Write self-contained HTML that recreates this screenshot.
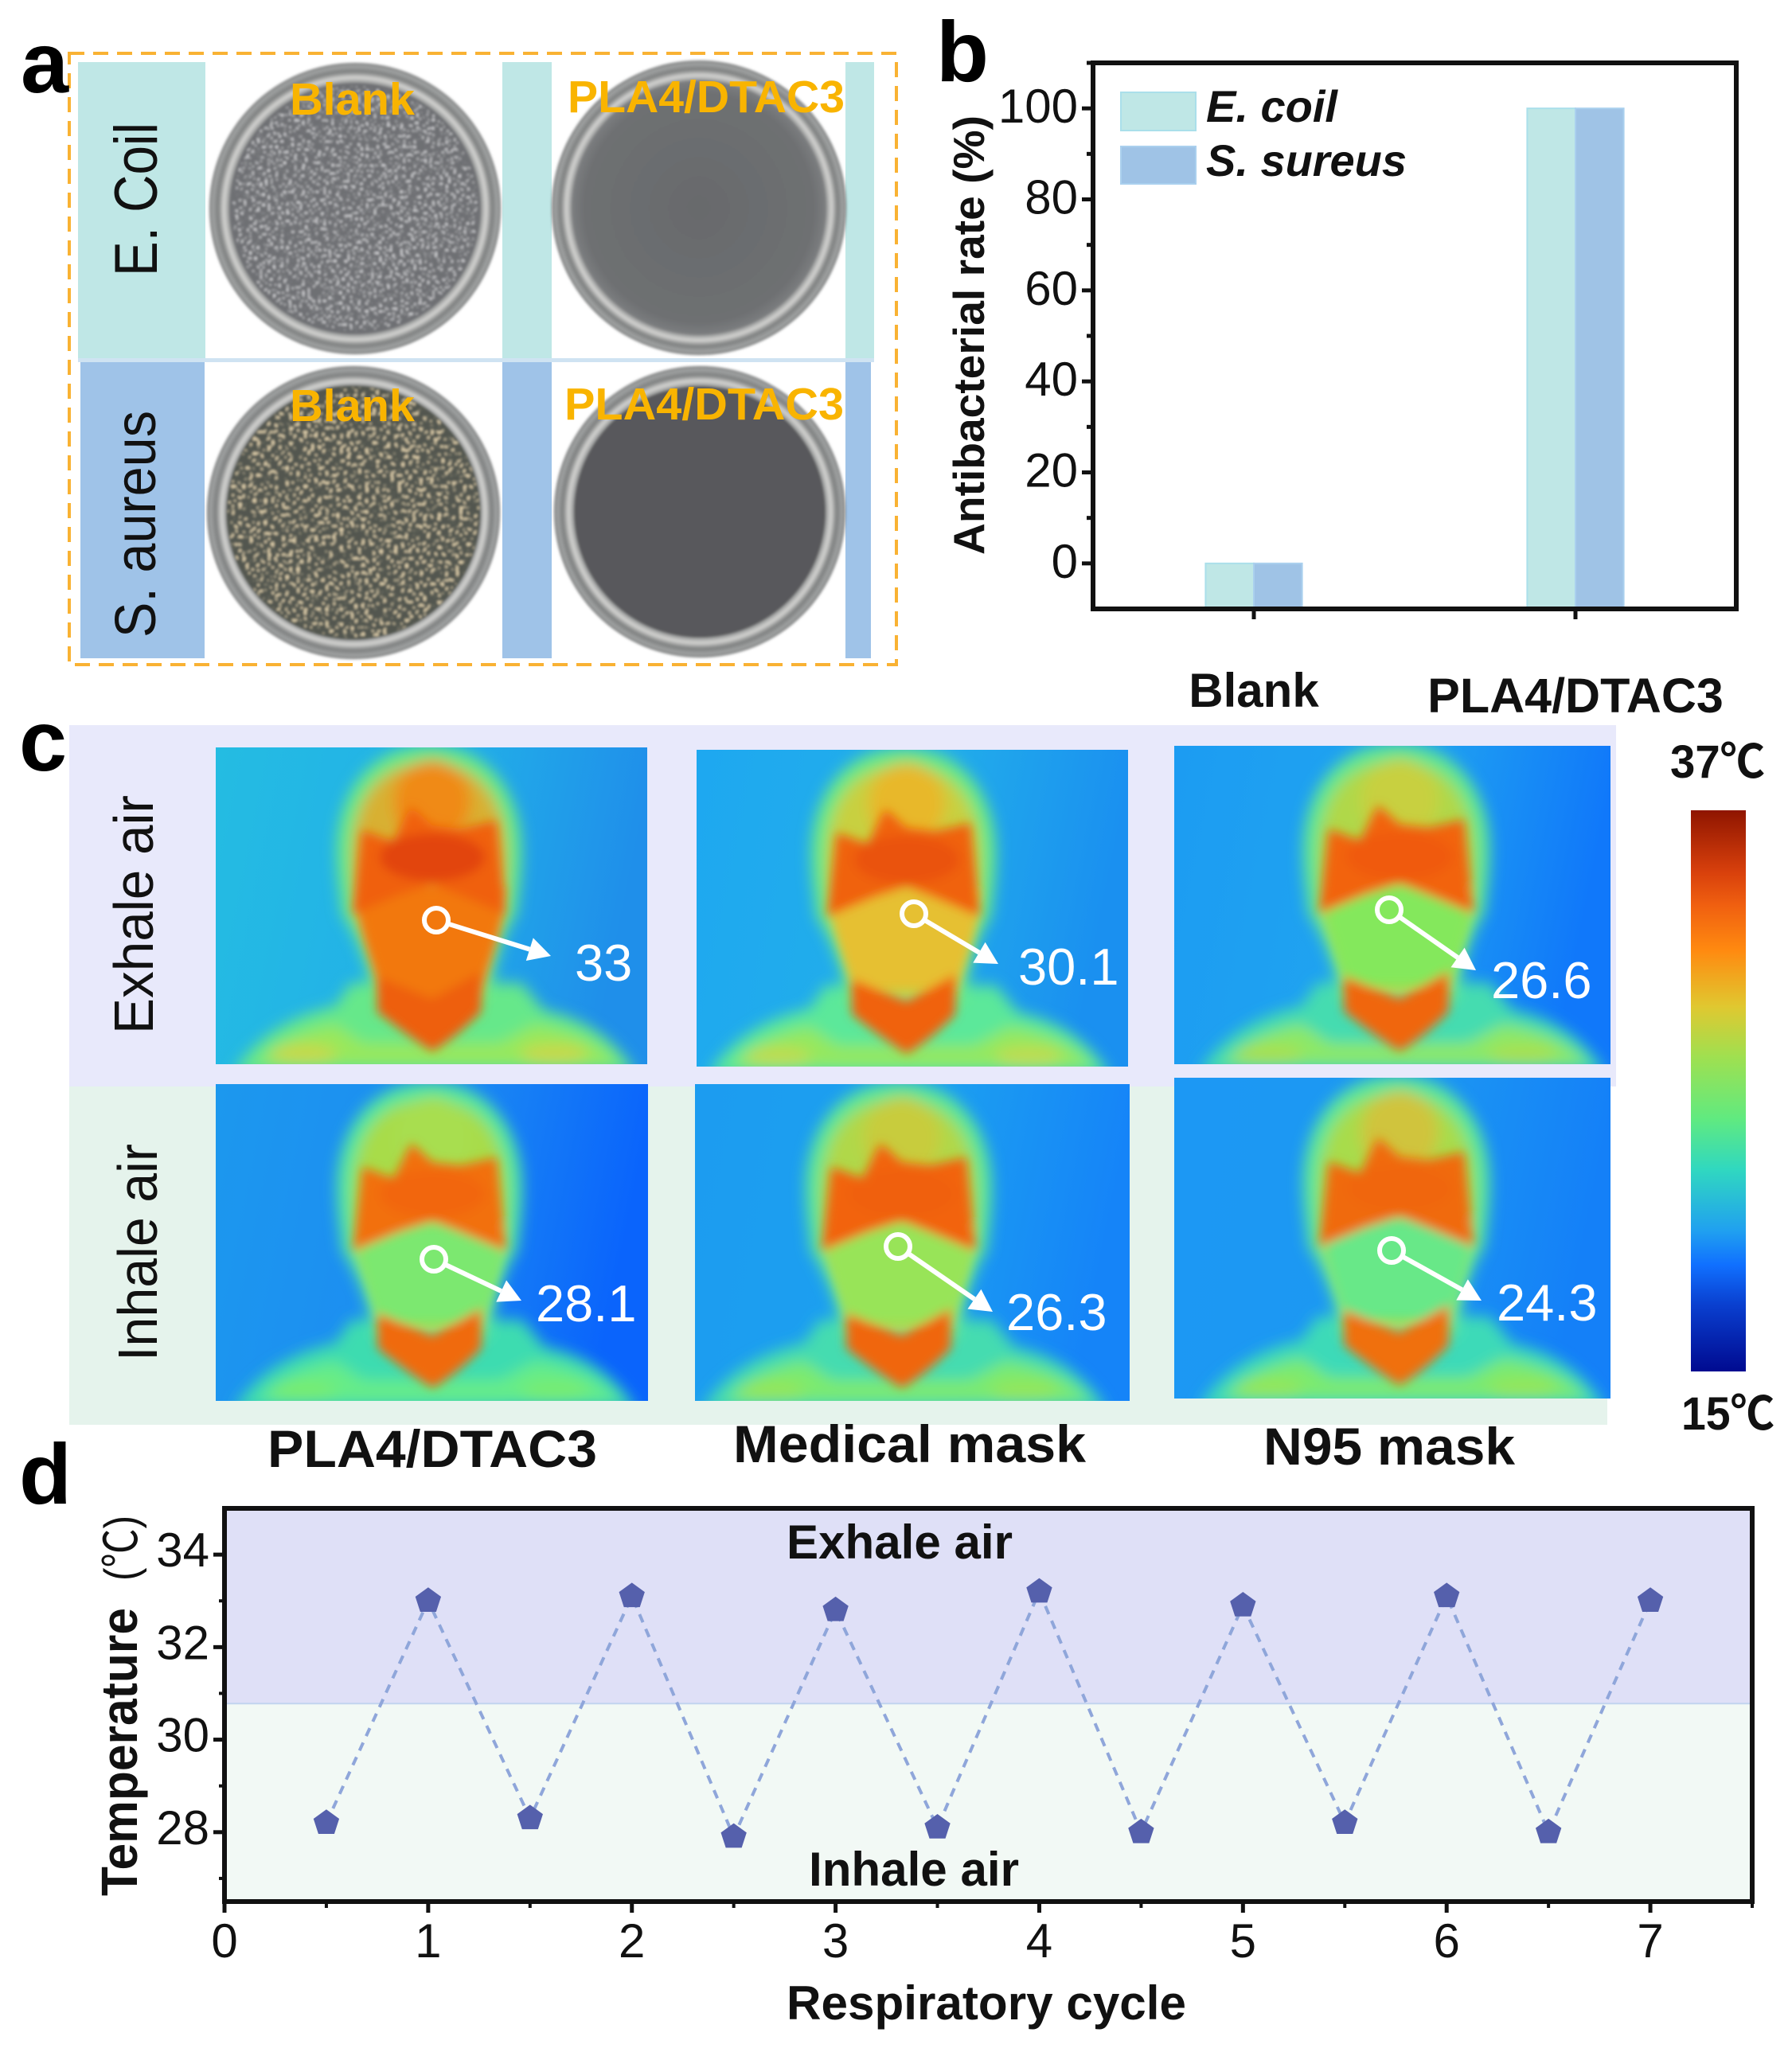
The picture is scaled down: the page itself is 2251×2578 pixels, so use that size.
<!DOCTYPE html>
<html lang="en">
<head>
<meta charset="utf-8">
<title>Antibacterial and thermal mask figure</title>
<style>
html,body{margin:0;padding:0;background:#fff}
svg{display:block}
text{font-family:"Liberation Sans","Noto Sans CJK SC",sans-serif;fill:#111}
.b{font-weight:bold}
.bi{font-weight:bold;font-style:italic}
.or{font-weight:bold;fill:#f9b400}
.w{fill:#fff;font-size:65px}
.pl{font-weight:bold;font-size:108px;fill:#000}
</style>
</head>
<body>
<svg id="fig" xmlns="http://www.w3.org/2000/svg" width="2251" height="2578" viewBox="0 0 2251 2578">
<defs>
<filter id="speck-gray" x="0" y="0" width="100%" height="100%"><feTurbulence type="fractalNoise" baseFrequency="0.3" numOctaves="1" seed="4"/><feColorMatrix values="0 0 0 0 .74  0 0 0 0 .74  0 0 0 0 .76  8 0 0 0 -4.5"/><feComposite in2="SourceGraphic" operator="in"/></filter>
<filter id="speck-tan" x="0" y="0" width="100%" height="100%"><feTurbulence type="fractalNoise" baseFrequency="0.22" numOctaves="1" seed="9"/><feColorMatrix values="0 0 0 0 .76  0 0 0 0 .64  0 0 0 0 .42  9 0 0 0 -5"/><feComposite in2="SourceGraphic" operator="in"/></filter>
<filter id="soft" x="-20%" y="-20%" width="140%" height="140%"><feGaussianBlur stdDeviation="9"/></filter>
<filter id="soft2" x="-20%" y="-20%" width="140%" height="140%"><feGaussianBlur stdDeviation="6.5"/></filter>
<filter id="soft1" x="-5%" y="-5%" width="110%" height="110%"><feGaussianBlur stdDeviation="1.5"/></filter>
<linearGradient id="cbar" x1="0" y1="0" x2="0" y2="1">
<stop offset="0" stop-color="#8f1500"/><stop offset=".11" stop-color="#d8400c"/><stop offset=".17" stop-color="#f06010"/><stop offset=".25" stop-color="#ff8a10"/><stop offset=".35" stop-color="#e0c830"/><stop offset=".44" stop-color="#9fe050"/><stop offset=".55" stop-color="#60ea80"/><stop offset=".64" stop-color="#30d8c0"/><stop offset=".75" stop-color="#20a0f0"/><stop offset=".81" stop-color="#1070ff"/><stop offset=".88" stop-color="#0a40d0"/><stop offset="1" stop-color="#000a90"/>
</linearGradient>
<radialGradient id="rim" cx="50%" cy="50%" r="50%"><stop offset=".86" stop-color="#8e9090"/><stop offset=".9" stop-color="#d4d4d2"/><stop offset=".94" stop-color="#7e8080"/><stop offset=".98" stop-color="#a2a4a4"/><stop offset="1" stop-color="#6c6e6e"/></radialGradient>
<radialGradient id="plate-light" cx="50%" cy="50%" r="50%"><stop offset="0" stop-color="#686a6c"/><stop offset=".9" stop-color="#6e7072"/><stop offset="1" stop-color="#7c7e80"/></radialGradient>
</defs>

<g>
<rect x="98" y="78" width="1000" height="372" fill="#bfe7e6"/>
<rect x="98" y="450" width="1000" height="5" fill="#cfe3f2"/>
<rect x="101" y="455" width="993" height="372" fill="#9fc3e8"/>
<rect x="258" y="78" width="373" height="372" fill="#fff"/>
<rect x="693" y="78" width="369" height="372" fill="#fff"/>
<rect x="257" y="455" width="374" height="372" fill="#fff"/>
<rect x="693" y="455" width="369" height="372" fill="#fff"/>
<rect x="87" y="67" width="1039" height="768" fill="none" stroke="#f9b233" stroke-width="4" stroke-dasharray="19 11"/>

<g filter="url(#soft1)">
<circle cx="446" cy="262" r="183" fill="url(#rim)"/>
<circle cx="446" cy="262" r="158" fill="#6e7073"/>
<circle cx="446" cy="262" r="154" filter="url(#speck-gray)"/>
</g>
<g filter="url(#soft1)">
<circle cx="878" cy="261" r="185" fill="url(#rim)"/>
<circle cx="878" cy="261" r="160" fill="url(#plate-light)"/>
</g>
<g filter="url(#soft1)">
<circle cx="444" cy="644" r="184" fill="url(#rim)"/>
<circle cx="444" cy="644" r="160" fill="#52564f"/>
<circle cx="444" cy="644" r="158" filter="url(#speck-tan)"/>
</g>
<g filter="url(#soft1)">
<circle cx="879" cy="643" r="183" fill="url(#rim)"/>
<circle cx="879" cy="643" r="158" fill="#58595b"/>
</g>

<text class="or" x="364" y="144" font-size="57" textLength="157" lengthAdjust="spacingAndGlyphs">Blank</text>
<text class="or" x="713" y="141" font-size="57" textLength="348" lengthAdjust="spacingAndGlyphs">PLA4/DTAC3</text>
<text class="or" x="364" y="529" font-size="57" textLength="157" lengthAdjust="spacingAndGlyphs">Blank</text>
<text class="or" x="709" y="527" font-size="57" textLength="351" lengthAdjust="spacingAndGlyphs">PLA4/DTAC3</text>
<text transform="translate(197 347) rotate(-90)" font-size="76" textLength="193" lengthAdjust="spacingAndGlyphs" xml:space="preserve">E. Coil</text>
<text transform="translate(195 801) rotate(-90)" font-size="72" textLength="285" lengthAdjust="spacingAndGlyphs" xml:space="preserve">S. aureus</text>
</g>

<g id="panel-b">
<g id="b-bars"></g>
<rect x="1373" y="79" width="808" height="686" fill="none" stroke="#111" stroke-width="6"/>
<g id="b-ticks"></g>
<rect x="1408" y="116" width="94" height="48" fill="#bfe7e6" stroke="#aadfea" stroke-width="2"/>
<rect x="1408" y="184" width="94" height="47" fill="#9fc3e6" stroke="#aad0ee" stroke-width="2"/>
<text class="bi" x="1515" y="153" font-size="56">E. coil</text>
<text class="bi" x="1515" y="221" font-size="56" textLength="252" lengthAdjust="spacingAndGlyphs">S. sureus</text>
<text class="b" transform="translate(1236 697) rotate(-90)" font-size="55" textLength="552" lengthAdjust="spacingAndGlyphs">Antibacterial rate (%)</text>
</g>

<g>
<rect x="87" y="911" width="1943" height="454" fill="#e8e9fb"/>
<rect x="87" y="1365" width="1932" height="425" fill="#e5f3ec"/>
<g id="thermals"></g>

<text class="w" x="722" y="1232">33</text>
<text class="w" x="1279" y="1237">30.1</text>
<text class="w" x="1873" y="1254">26.6</text>
<text class="w" x="673" y="1660">28.1</text>
<text class="w" x="1264" y="1671">26.3</text>
<text class="w" x="1880" y="1659">24.3</text>

<text transform="translate(192 1299) rotate(-90)" font-size="70" textLength="300" lengthAdjust="spacingAndGlyphs">Exhale air</text>
<text transform="translate(197 1710) rotate(-90)" font-size="70" textLength="273" lengthAdjust="spacingAndGlyphs">Inhale air</text>
<text class="b" x="336" y="1843" font-size="66" textLength="414" lengthAdjust="spacingAndGlyphs">PLA4/DTAC3</text>
<text class="b" x="921" y="1837" font-size="66" textLength="443" lengthAdjust="spacingAndGlyphs">Medical mask</text>
<text class="b" x="1587" y="1840" font-size="66" textLength="316" lengthAdjust="spacingAndGlyphs">N95 mask</text>

<rect x="2124" y="1018" width="69" height="705" fill="url(#cbar)"/>
<text class="b" x="2098" y="977" font-size="58" textLength="119" lengthAdjust="spacingAndGlyphs">37℃</text>
<text class="b" x="2112" y="1796" font-size="58" textLength="117" lengthAdjust="spacingAndGlyphs">15℃</text>
</g>

<g id="panel-d">
<g id="d-bands"></g>
<g id="d-ticks"></g>
<g id="d-series"></g>
<text class="b" x="988" y="1958" font-size="60" textLength="284" lengthAdjust="spacingAndGlyphs">Exhale air</text>
<text class="b" x="1016" y="2369" font-size="60" textLength="264" lengthAdjust="spacingAndGlyphs">Inhale air</text>
<text class="b" x="988" y="2537" font-size="60" textLength="502" lengthAdjust="spacingAndGlyphs">Respiratory cycle</text>
<text class="b" transform="translate(172 2382) rotate(-90)" font-size="64" textLength="362" lengthAdjust="spacingAndGlyphs">Temperature</text>
<text transform="translate(172 1986) rotate(-90)" font-size="58" textLength="82" lengthAdjust="spacingAndGlyphs">(℃)</text>
</g>

<text class="pl" x="26" y="116">a</text>
<text class="pl" x="1176" y="102">b</text>
<text class="pl" x="24" y="968">c</text>
<text class="pl" x="24" y="1889">d</text>
</svg>

<script>
// ---- Panel b data ----
const barCategories = ['Blank', 'PLA4/DTAC3'];
const eColiRates = [0, 100];
const sAureusRates = [0, 100];
const barYTickLabels = [0, 20, 40, 60, 80, 100];

// ---- Panel d data ----
const cycleValues = [0.5, 1, 1.5, 2, 2.5, 3, 3.5, 4, 4.5, 5, 5.5, 6, 6.5, 7];
const temperatureValues = [28.2, 33, 28.3, 33.1, 27.9, 32.8, 28.1, 33.2, 28.0, 32.9, 28.2, 33.1, 28.0, 33];
const lineXTickLabels = [0, 1, 2, 3, 4, 5, 6, 7];
const lineYTickLabels = [28, 30, 32, 34];

const NS = 'http://www.w3.org/2000/svg';
function mk(tag, attrs, parent) {
  const el = document.createElementNS(NS, tag);
  for (const k in attrs) el.setAttribute(k, attrs[k]);
  if (parent) parent.appendChild(el);
  return el;
}

// ---- Panel b axes ----
const bLeft = 1373, bRight = 2181, bTop = 79, bBottom = 765;
const bYMin = -10, bYMax = 110;
const bx = i => bLeft + (i + 0.5) / 2 * (bRight - bLeft);
const by = v => bBottom - (v - bYMin) / (bYMax - bYMin) * (bBottom - bTop);
const barUnit = 0.15 * (bRight - bLeft) / 2;

const bBars = document.getElementById('b-bars');
const bTicks = document.getElementById('b-ticks');
barCategories.forEach((cat, i) => {
  const r1 = mk('rect', {x: bx(i) - barUnit, y: by(eColiRates[i]), width: barUnit, height: bBottom - by(eColiRates[i]), fill: '#bfe7e6', stroke: '#aadfea', 'stroke-width': 2}, bBars);
  
  
  const r2 = mk('rect', {x: bx(i), y: by(sAureusRates[i]), width: barUnit, height: bBottom - by(sAureusRates[i]), fill: '#9fc3e6', stroke: '#aad0ee', 'stroke-width': 2}, bBars);
  
  
  const t = mk('line', {x1: bx(i), x2: bx(i), y1: bBottom, y2: bBottom + 13, stroke: '#111', 'stroke-width': 5}, bTicks);
  
  
  const lab = mk('text', {x: bx(i), y: i === 0 ? 888 : 895, 'text-anchor': 'middle', 'font-size': i === 0 ? 60 : 61, 'font-weight': 'bold'}, bTicks);
  lab.textContent = cat;
  
  
});
barYTickLabels.forEach(v => {
  const t = mk('line', {x1: bLeft - 14, x2: bLeft, y1: by(v), y2: by(v), stroke: '#111', 'stroke-width': 5}, bTicks);
  
  
  const m = mk('line', {x1: bLeft - 8, x2: bLeft, y1: by(v + 10), y2: by(v + 10), stroke: '#111', 'stroke-width': 5}, bTicks);
  
  
  const lab = mk('text', {x: 1354, y: by(v) + 18, 'text-anchor': 'end', 'font-size': 60}, bTicks);
  lab.textContent = v;
  
  
});

// ---- Thermal images ----
const thermalRoot = document.getElementById('thermals');
function thermal(name, x, y, w, h, o) {
  const s = mk('svg', {x: x, y: y, width: w, height: h, viewBox: '0 0 542 398', preserveAspectRatio: 'none'}, thermalRoot);
  
  
  const gid = 'bg-' + name;
  const g = mk('linearGradient', {id: gid, x1: 0, y1: 0, x2: 1, y2: 0.15}, s);
  mk('stop', {offset: 0, 'stop-color': o.bgL}, g);
  mk('stop', {offset: 0.55, 'stop-color': o.bgM}, g);
  mk('stop', {offset: 1, 'stop-color': o.bgR}, g);
  mk('rect', {x: 0, y: 0, width: 542, height: 398, fill: 'url(#' + gid + ')'}, s);

  const far = mk('g', {filter: 'url(#soft)', transform: 'translate(' + o.dx + ' 0)'}, s);
  mk('path', {d: 'M22,410 Q60,345 150,325 L170,296 L384,296 L412,330 Q490,345 528,410 Z', fill: o.body}, far);
  mk('path', {d: 'M268,-2 C345,-2 384,60 384,130 C384,170 378,195 378,208 C358,240 352,270 342,320 L200,320 C190,270 178,240 158,208 C158,190 152,170 152,130 C152,60 192,-2 268,-2 Z', fill: o.halo}, far);
  mk('path', {d: 'M268,20 C335,20 364,70 364,135 C364,175 358,200 356,212 C345,240 336,270 328,312 L212,312 C204,270 192,240 178,212 C178,195 172,175 172,135 C172,70 200,20 268,20 Z', fill: o.head}, far);
  mk('path', {d: 'M52,398 Q90,358 150,348 L186,372 L356,372 L400,348 Q470,358 506,398 Z', fill: o.body2}, far);
  mk('ellipse', {cx: 272, cy: 68, rx: 48, ry: 52, fill: o.fore}, far);
  mk('ellipse', {cx: 110, cy: 385, rx: 42, ry: 12, fill: o.streak}, far);
  mk('ellipse', {cx: 425, cy: 385, rx: 42, ry: 12, fill: o.streak}, far);

  const near = mk('g', {filter: 'url(#soft2)', transform: 'translate(' + o.dx + ' 0)'}, s);
  mk('path', {d: 'M176,175 L364,175 C362,225 345,262 335,300 L205,300 C195,262 178,225 176,175 Z', fill: o.face}, near);
  if (o.chin) {
    mk('path', {d: 'M205,280 L335,280 L333,335 L203,335 Z', fill: o.chin}, near);
  }
  mk('path', {d: 'M184,104 L223,118 L245,74 L272,98 L307,102 L352,92 L364,210 L307,186 L272,172 L229,186 L172,210 Z', fill: o.band}, near);
  mk('ellipse', {cx: 272, cy: 138, rx: 66, ry: 30, fill: o.core}, near);
  mk('path', {d: 'M203,288 L272,316 L333,282 L333,332 Q305,362 272,382 Q240,362 203,332 Z', fill: o.neck}, near);
}
thermal('thermal-exhale-pla', 271, 939, 542, 398, {dx: 0, bgL: '#24bce2', bgM: '#22b0e8', bgR: '#1f8fea', body: '#66e88a', body2: '#98e85c', streak: '#c8d848', halo: '#6cea84', head: '#d8b030', fore: '#f08a14', face: '#f2780e', chin: '#f2780e', band: '#f0600c', core: '#e2440a', neck: '#ee5e0c'});
thermal('thermal-exhale-medical', 875, 942, 542, 398, {dx: -8, bgL: '#1ea8f0', bgM: '#22aeea', bgR: '#1a90f0', body: '#5ce89a', body2: '#94e85e', streak: '#c0dc50', halo: '#6cea84', head: '#c8d040', fore: '#e8b82c', face: '#e6c030', band: '#f0620c', core: '#ea520a', neck: '#f0620c'});
thermal('thermal-exhale-n95', 1475, 937, 548, 400, {dx: 8, bgL: '#1c9cf2', bgM: '#20a4f0', bgR: '#1078fa', body: '#44dcb0', body2: '#8ce868', streak: '#a8e050', halo: '#64e890', head: '#b0d848', fore: '#c8d040', face: '#84e85c', band: '#f2640c', core: '#f05a0a', neck: '#f0660e'});
thermal('thermal-inhale-pla', 271, 1362, 543, 398, {dx: 0, bgL: '#1c98ee', bgM: '#1c8cf2', bgR: '#0a64fc', body: '#3cdcb0', body2: '#66ec88', streak: '#78ec70', halo: '#58e89c', head: '#a8dc48', fore: '#a8de50', face: '#7ce870', band: '#f2700c', core: '#f2660c', neck: '#f06a0e'});
thermal('thermal-inhale-medical', 873, 1362, 546, 398, {dx: -14, bgL: '#1c9cf0', bgM: '#1ca0f0', bgR: '#1584f8', body: '#44dcb0', body2: '#7cea70', streak: '#94e658', halo: '#60e894', head: '#b0d848', fore: '#c8cc3c', face: '#98e458', band: '#f2640c', core: '#f0600a', neck: '#f0660e'});
thermal('thermal-inhale-n95', 1475, 1354, 548, 403, {dx: 8, bgL: '#1c98f4', bgM: '#1c98f2', bgR: '#1480f8', body: '#3cdab8', body2: '#7cea70', streak: '#94e658', halo: '#5ee898', head: '#a8dc4c', fore: '#d0c43c', face: '#68e888', band: '#f06a0e', core: '#f0660c', neck: '#f0700e'});

// measurement markers on the thermal images
function probe(name, cx, cy, ex, ey) {
  const g = mk('g', {}, thermalRoot);
  
  
  const dx = ex - cx, dy = ey - cy, len = Math.hypot(dx, dy), ux = dx / len, uy = dy / len;
  const hx = ex - ux * 28, hy = ey - uy * 28;
  mk('line', {x1: cx + ux * 17, y1: cy + uy * 17, x2: hx, y2: hy, stroke: '#fff', 'stroke-width': 6}, g);
  mk('polygon', {points: ex + ',' + ey + ' ' + (hx - uy * 15) + ',' + (hy + ux * 15) + ' ' + (hx + uy * 15) + ',' + (hy - ux * 15), fill: '#fff'}, g);
  mk('circle', {cx: cx, cy: cy, r: 15, fill: 'none', stroke: '#fff', 'stroke-width': 6}, g);
}
probe('probe-exhale-pla', 548, 1156, 692, 1201);
probe('probe-exhale-medical', 1148, 1148, 1254, 1211);
probe('probe-exhale-n95', 1745, 1143, 1854, 1219);
probe('probe-inhale-pla', 545, 1582, 655, 1634);
probe('probe-inhale-medical', 1128, 1566, 1247, 1648);
probe('probe-inhale-n95', 1748, 1571, 1861, 1634);

// ---- Panel d axes ----
const dLeft = 282, dRight = 2201, dTop = 1895, dBottom = 2389;
const dXMax = 7.5, dYMax = 35, dYMin = 26.5;
const dx = v => dLeft + v / dXMax * (dRight - dLeft);
const dy = v => dTop + (dYMax - v) / (dYMax - dYMin) * (dBottom - dTop);

const bands = document.getElementById('d-bands');
const bandSplit = 30.78;
const upper = mk('rect', {x: dLeft, y: dTop, width: dRight - dLeft, height: dy(bandSplit) - dTop, fill: '#dfe0f7'}, bands);


const lower = mk('rect', {x: dLeft, y: dy(bandSplit), width: dRight - dLeft, height: dBottom - dy(bandSplit), fill: '#f2f9f5'}, bands);


const split = mk('line', {x1: dLeft, x2: dRight, y1: dy(bandSplit), y2: dy(bandSplit), stroke: '#c2d4ef', 'stroke-width': 2}, bands);



const dTicks = document.getElementById('d-ticks');
const frame = mk('rect', {x: dLeft, y: dTop, width: dRight - dLeft, height: dBottom - dTop, fill: 'none', stroke: '#111', 'stroke-width': 6}, dTicks);


lineXTickLabels.forEach(v => {
  const t = mk('line', {x1: dx(v), x2: dx(v), y1: dBottom, y2: dBottom + 14, stroke: '#111', 'stroke-width': 5}, dTicks);
  
  
  const m = mk('line', {x1: dx(v + 0.5), x2: dx(v + 0.5), y1: dBottom, y2: dBottom + 8, stroke: '#111', 'stroke-width': 4}, dTicks);
  
  
  const lab = mk('text', {x: dx(v), y: 2459, 'text-anchor': 'middle', 'font-size': 60}, dTicks);
  lab.textContent = v;
  
  
});
lineYTickLabels.forEach(v => {
  const t = mk('line', {x1: dLeft - 14, x2: dLeft, y1: dy(v), y2: dy(v), stroke: '#111', 'stroke-width': 5}, dTicks);
  
  
  const m = mk('line', {x1: dLeft - 7, x2: dLeft, y1: dy(v - 1), y2: dy(v - 1), stroke: '#111', 'stroke-width': 4}, dTicks);
  
  
  const lab = mk('text', {x: 263, y: dy(v) + 15, 'text-anchor': 'end', 'font-size': 60}, dTicks);
  lab.textContent = v;
  
  
});

const dSeries = document.getElementById('d-series');
const linePts = cycleValues.map((c, i) => dx(c) + ',' + dy(temperatureValues[i])).join(' ');
const line = mk('polyline', {points: linePts, fill: 'none', stroke: '#8fa6da', 'stroke-width': 4, 'stroke-dasharray': '11 9'}, dSeries);


cycleValues.forEach((c, i) => {
  const cx = dx(c), cy = dy(temperatureValues[i]);
  const pts = [];
  for (let k = 0; k < 5; k++) {
    const a = -Math.PI / 2 + k * 2 * Math.PI / 5;
    pts.push((cx + 17 * Math.cos(a)) + ',' + (cy + 17 * Math.sin(a)));
  }
  const p = mk('polygon', {points: pts.join(' '), fill: '#5560ac'}, dSeries);
  
  
});
</script>
</body>
</html>
